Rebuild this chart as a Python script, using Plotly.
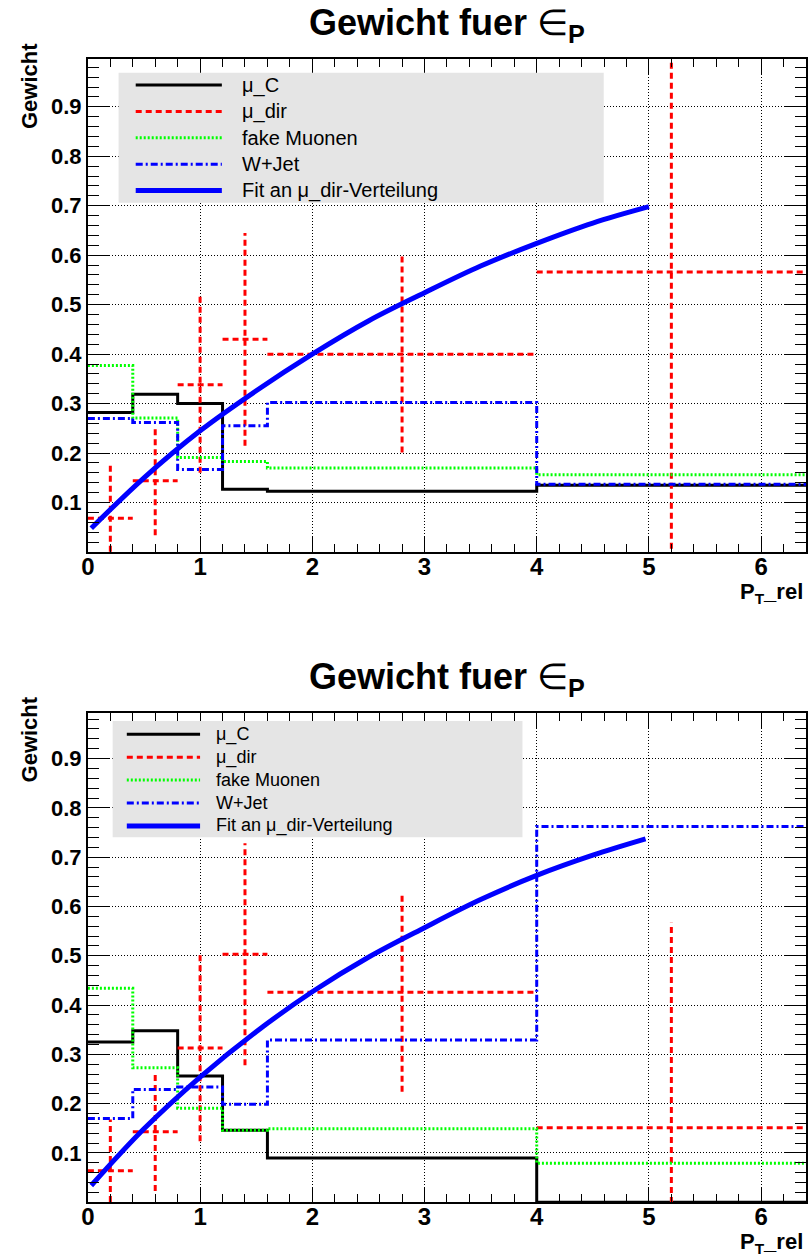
import plotly.graph_objects as go

W, H = 808, 1256

# ---------------- data ----------------
bin_edges = [0.0, 0.4, 0.8, 1.2, 1.6, 4.0, 6.4]
bin_centers = [0.2, 0.6, 1.0, 1.4, 2.8, 5.2]

legend_names = ["\u03bc_C", "\u03bc_dir", "fake Muonen", "W+Jet", "Fit an \u03bc_dir-Verteilung"]

# top panel
top_mu_c = [0.282, 0.319, 0.300, 0.127, 0.123, 0.135]
top_mu_dir = [0.068, 0.144, 0.338, 0.430, 0.400, 0.566]
top_mu_dir_err = [0.108, 0.110, 0.178, 0.215, 0.199, 0.620]
top_fake = [0.377, 0.271, 0.191, 0.183, 0.170, 0.156]
top_wjet = [0.270, 0.262, 0.167, 0.255, 0.302, 0.137]
top_fit_x = [0.03, 0.5, 1.0, 1.5, 2.0, 2.5, 3.0, 3.5, 4.0, 4.5, 5.0]
top_fit_y = [0.048, 0.150, 0.245, 0.326, 0.400, 0.467, 0.524, 0.578, 0.624, 0.665, 0.698]

# bottom panel
bot_mu_c = [0.325, 0.348, 0.256, 0.146, 0.090, 0.0]
bot_mu_dir = [0.064, 0.143, 0.313, 0.503, 0.426, 0.151]
bot_mu_dir_err = [0.104, 0.120, 0.189, 0.225, 0.202, 0.416]
bot_fake = [0.434, 0.273, 0.191, 0.146, 0.149, 0.079]
bot_wjet = [0.170, 0.229, 0.234, 0.199, 0.329, 0.762]
bot_fit_x = [0.03, 0.5, 1.0, 1.5, 2.0, 2.5, 3.0, 3.5, 4.0, 4.5, 4.97]
bot_fit_y = [0.034, 0.149, 0.254, 0.346, 0.427, 0.497, 0.557, 0.614, 0.663, 0.704, 0.737]

y_tick_vals = [0.1, 0.2, 0.3, 0.4, 0.5, 0.6, 0.7, 0.8, 0.9]
y_tick_text = ["0.1", "0.2", "0.3", "0.4", "0.5", "0.6", "0.7", "0.8", "0.9"]
x_tick_vals = [0, 1, 2, 3, 4, 5, 6]
x_tick_text = ["0", "1", "2", "3", "4", "5", "6"]

title_text = "<b>Gewicht fuer </b>\u2208<b><sub>P</sub></b>"
ytitle_text = "<b>Gewicht</b>"
xtitle_text = "<b>P<sub>T</sub>_rel</b>"

# ---------------- styles ----------------
FONT = "Liberation Sans, Arial, Helvetica, sans-serif"
RED, GREEN, BLUE = "#ff0000", "#00ff00", "#0000ff"
styles = [
    dict(color="black", width=3, dash="solid"),
    dict(color=RED, width=3, dash="6px,4px"),
    dict(color=GREEN, width=3, dash="2px,2px"),
    dict(color=BLUE, width=3, dash="7px,3px,2px,3px"),
    dict(color=BLUE, width=5, dash="solid"),
]


def px(x):
    return x / W


def py(y):
    return 1 - y / H


fig = go.Figure()


def step(vals):
    return list(vals) + [vals[-1]]


def errsegs(vals, errs):
    xs, ys = [], []
    for i, (v, e) in enumerate(zip(vals, errs)):
        xs += [bin_edges[i], bin_edges[i + 1], None, bin_centers[i], bin_centers[i], None]
        ys += [v, v, None, v - e, v + e, None]
    return xs, ys


def add_panel(xa, ya, mu_c, mu_dir, mu_dir_err, fake, wjet, fit_x, fit_y):
    fig.add_trace(go.Scatter(x=bin_edges, y=step(mu_c), mode="lines", line_shape="hv",
                             line=styles[0], name=legend_names[0], showlegend=False,
                             xaxis=xa, yaxis=ya))
    ex, ey = errsegs(mu_dir, mu_dir_err)
    fig.add_trace(go.Scatter(x=ex, y=ey, mode="lines", line=styles[1], name=legend_names[1],
                             showlegend=False, xaxis=xa, yaxis=ya))
    fig.add_trace(go.Scatter(x=bin_edges, y=step(fake), mode="lines", line_shape="hv",
                             line=styles[2], name=legend_names[2], showlegend=False,
                             xaxis=xa, yaxis=ya))
    fig.add_trace(go.Scatter(x=bin_edges, y=step(wjet), mode="lines", line_shape="hv",
                             line=styles[3], name=legend_names[3], showlegend=False,
                             xaxis=xa, yaxis=ya))
    fig.add_trace(go.Scatter(x=fit_x, y=fit_y, mode="lines", line_shape="spline",
                             line=styles[4], name=legend_names[4], showlegend=False,
                             xaxis=xa, yaxis=ya))


add_panel("x", "y", top_mu_c, top_mu_dir, top_mu_dir_err, top_fake, top_wjet, top_fit_x, top_fit_y)
add_panel("x2", "y2", bot_mu_c, bot_mu_dir, bot_mu_dir_err, bot_fake, bot_wjet, bot_fit_x, bot_fit_y)


def xaxis_cfg(anchor):
    return dict(
        domain=[px(81.7), px(807)], range=[0, 6.4], anchor=anchor,
        tickmode="array", tickvals=x_tick_vals, ticktext=x_tick_text,
        ticks="inside", ticklen=15, tickwidth=1, tickcolor="black",
        showline=True, linewidth=2, linecolor="black", mirror="allticks",
        showgrid=True, gridcolor="black", gridwidth=1, griddash="1px,2px",
        zeroline=False, ticklabelstandoff=-8,
        tickfont=dict(family=FONT, size=24, color="black", weight="bold"),
        minor=dict(tickmode="linear", tick0=0, dtick=0.2, ticks="inside", ticklen=8,
                   tickwidth=1, tickcolor="black", showgrid=False),
    )


def yaxis_cfg(anchor, dom, top):
    return dict(
        domain=dom, range=[0, top], anchor=anchor,
        tickmode="array", tickvals=y_tick_vals, ticktext=y_tick_text,
        ticks="inside", ticklen=22, tickwidth=1, tickcolor="black",
        showline=True, linewidth=2, linecolor="black", mirror="allticks",
        showgrid=True, gridcolor="black", gridwidth=1, griddash="1px,2px",
        zeroline=False,
        tickfont=dict(family=FONT, size=22, color="black", weight="bold"),
        minor=dict(tickmode="linear", tick0=0, dtick=0.02, ticks="inside", ticklen=11,
                   tickwidth=1, tickcolor="black", showgrid=False),
    )


annotations = []
shapes = []


def add_decor(frame_top, frame_bottom, legbox, rows, samp_x, text_x, lfs):
    # title
    annotations.append(dict(text=title_text, x=px(444), y=py(frame_top - 34), xref="paper", yref="paper",
                            xanchor="center", yanchor="middle", showarrow=False,
                            font=dict(family=FONT, size=36, color="black")))
    # y title
    annotations.append(dict(text=ytitle_text, x=px(23), y=py(frame_top + 27), xref="paper", yref="paper",
                            xanchor="center", yanchor="middle", textangle=-90, showarrow=False,
                            font=dict(family=FONT, size=22, color="black")))
    # x title
    annotations.append(dict(text=xtitle_text, x=px(806), y=py(frame_bottom + 41), xref="paper",
                            yref="paper", xanchor="right", yanchor="middle", showarrow=False,
                            font=dict(family=FONT, size=22, color="black")))
    # legend box
    x0, y0, x1, y1 = legbox
    shapes.append(dict(type="rect", xref="paper", yref="paper", x0=px(x0), x1=px(x1),
                       y0=py(y1), y1=py(y0), fillcolor="#e5e5e5", line=dict(width=0),
                       layer="above"))
    for i, name in enumerate(legend_names):
        ry = rows[i]
        shapes.append(dict(type="line", xref="paper", yref="paper", x0=px(samp_x[0]),
                           x1=px(samp_x[1]), y0=py(ry), y1=py(ry), line=styles[i], layer="above"))
        annotations.append(dict(text=name, x=px(text_x), y=py(ry), xref="paper", yref="paper",
                                xanchor="left", yanchor="middle", showarrow=False,
                                font=dict(family=FONT, size=lfs, color="black")))


add_decor(59.3, 552.0, (112.7, 72.7, 602.7, 202.7), [85, 111.4, 137.8, 164.2, 190.6],
          (130, 217), 235, 20)
add_decor(712.7, 1202.3, (106.7, 721, 520.6, 837.3), [734.3, 757.2, 780.1, 803.0, 825.9],
          (121, 195), 209, 18)

fig.update_layout(
    width=W, height=H,
    margin=dict(l=0, r=0, t=0, b=0),
    paper_bgcolor="white", plot_bgcolor="white",
    font=dict(family=FONT, color="black"),
    showlegend=False,
    xaxis=xaxis_cfg("y"),
    yaxis=yaxis_cfg("x", [py(552.0), py(59.3)], 0.996),
    xaxis2=xaxis_cfg("y2"),
    yaxis2=yaxis_cfg("x2", [py(1202.3), py(712.7)], 0.993),
    annotations=annotations,
    shapes=shapes,
)

fig.write_html("out.html")
